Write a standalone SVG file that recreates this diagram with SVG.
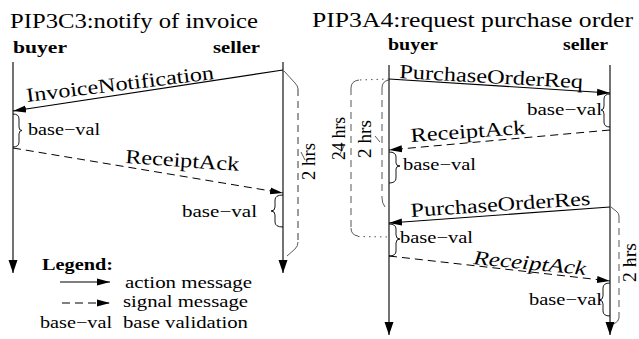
<svg xmlns="http://www.w3.org/2000/svg" width="639" height="339" viewBox="0 0 639 339">
<style>
text{font-family:"Liberation Serif","Times New Roman",serif;fill:#000;lengthAdjust:spacingAndGlyphs}
.t{font-size:20px}
.h{font-size:16px;font-weight:bold}
.b{font-size:17px}
.r{font-size:19px}
.ln{stroke:#000;stroke-width:1.1;fill:none}
.ds{stroke:#000;stroke-width:1;fill:none;stroke-dasharray:8 5}
.br{stroke:#000;stroke-width:0.9;fill:none}
.tm{stroke:#222;stroke-width:0.9;fill:none;stroke-dasharray:7 5}
.tg{stroke:#666;stroke-width:1.1;fill:none;stroke-dasharray:7 5}
.dt{stroke:#555;stroke-width:1;fill:none;stroke-dasharray:1.5 4}
.th{stroke:#333;stroke-width:0.8;fill:none}
</style>
<defs>
<marker id="ah" markerUnits="userSpaceOnUse" markerWidth="14" markerHeight="10" refX="13" refY="4" orient="auto"><path d="M0,0.5 L13,4 L0,7.5 Z" fill="#000"/></marker>
<marker id="lh" markerUnits="userSpaceOnUse" markerWidth="14" markerHeight="10" refX="13" refY="4.5" orient="auto"><path d="M0,0 L13,4.5 L0,9 Z" fill="#000"/></marker>
</defs>

<g id="titles">
<text class="t" x="10" y="28" textLength="248" lengthAdjust="spacingAndGlyphs">PIP3C3:notify of invoice</text>
<text class="t" x="312" y="27" textLength="321" lengthAdjust="spacingAndGlyphs">PIP3A4:request purchase order</text>
</g>

<g id="left-buyer">
<text class="h" x="13" y="53" textLength="54" lengthAdjust="spacingAndGlyphs">buyer</text>
</g>
<g id="left-seller">
<text class="h" x="213" y="53" textLength="47" lengthAdjust="spacingAndGlyphs">seller</text>
</g>
<g id="right-buyer">
<text class="h" x="388" y="50" textLength="50" lengthAdjust="spacingAndGlyphs">buyer</text>
</g>
<g id="right-seller">
<text class="h" x="563" y="50" textLength="45" lengthAdjust="spacingAndGlyphs">seller</text>
</g>

<g id="connectors">
<!-- lifelines -->
<line class="ln" x1="13" y1="62" x2="13" y2="273" marker-end="url(#lh)"/>
<line class="ln" x1="283" y1="62" x2="283" y2="273" marker-end="url(#lh)"/>
<line class="ln" x1="389" y1="65" x2="389" y2="335" marker-end="url(#lh)"/>
<line class="ln" x1="610" y1="65" x2="610" y2="335" marker-end="url(#lh)"/>
<!-- left messages -->
<line class="ln" x1="283" y1="70" x2="13" y2="111" marker-end="url(#ah)"/>
<line class="ds" x1="13" y1="148" x2="283" y2="193" marker-end="url(#ah)"/>
<!-- right messages -->
<line class="ln" x1="389" y1="79" x2="610" y2="93" marker-end="url(#ah)"/>
<line class="ds" x1="610" y1="130" x2="389" y2="150" marker-end="url(#ah)"/>
<line class="ln" x1="610" y1="207" x2="389" y2="223" marker-end="url(#ah)"/>
<line class="ds" x1="389" y1="256" x2="610" y2="281" marker-end="url(#ah)"/>
<!-- braces -->
<path class="br" d="M13,114 Q19,114 19,119 L19,127 Q19,130.5 22,130.5 Q19,130.5 19,134 L19,142 Q19,147 13,147"/>
<path class="br" d="M283,195 Q275,195 275,200 L275,207 Q275,211 271,211 Q275,211 275,215 L275,222 Q275,227 283,227"/>
<path class="br" d="M610,94 Q604,94 604,99 L604,106 Q604,110 601,110 Q604,110 604,114 L604,122 Q604,127 610,127"/>
<path class="br" d="M389,152 Q396,152 396,157 L396,163 Q396,166 400,166 Q396,166 396,169 L396,178 Q396,183 389,183"/>
<path class="br" d="M389,224 Q396,224 396,229 L396,235 Q396,239 400,239 Q396,239 396,243 L396,251 Q396,256 389,256"/>
<path class="br" d="M610,283 Q603,283 603,288 L603,296 Q603,300 599,300 Q603,300 603,304 L603,311 Q603,316 610,316"/>
<!-- timing brackets -->
<path class="th" d="M284,71 L295,83 Q298,86 298,89"/>
<line class="tm" x1="298" y1="89" x2="298" y2="242"/>
<path class="th" d="M298,242 Q298,246 295,249 L287,256"/>
<line class="th" x1="301" y1="152" x2="305" y2="160"/>

<path class="th" d="M611,207 L616,211 Q619,213 619,216"/>
<line class="tg" x1="619" y1="216" x2="619" y2="318"/>
<path class="th" d="M619,318 Q619,321 614,324"/>
<line class="th" x1="629" y1="259" x2="633" y2="266"/>

<path class="dt" d="M389,79 L359,80"/>
<path class="th" d="M359,80 Q351,81 351,88"/>
<line class="tg" x1="351" y1="88" x2="351" y2="228"/>
<path class="th" d="M351,228 Q351,235 358,236"/>
<path class="dt" d="M358,236.5 L389,237"/>
<path class="th" d="M389,80 Q382,81 382,88"/>
<line class="tg" x1="382" y1="88" x2="382" y2="198"/>
<path class="th" d="M382,198 Q382,203 385,207"/>
<line class="th" x1="339" y1="156" x2="344" y2="146"/>
<line class="th" x1="375" y1="136" x2="380" y2="142"/>
<!-- legend arrows -->
<line class="ln" x1="60" y1="282" x2="110" y2="282" marker-end="url(#ah)"/>
<line class="ds" x1="62" y1="303" x2="110" y2="303" stroke-dasharray="6 4" marker-end="url(#ah)"/>
</g>

<g id="labels">
<text class="t" transform="translate(27,102) rotate(-7)" textLength="189" lengthAdjust="spacingAndGlyphs">InvoiceNotification</text>
<text class="b" x="28" y="135" textLength="72" lengthAdjust="spacingAndGlyphs">base−val</text>
<text class="t" transform="translate(125,163) rotate(4)" textLength="114" lengthAdjust="spacingAndGlyphs">ReceiptAck</text>
<text class="b" x="182" y="217" textLength="75" lengthAdjust="spacingAndGlyphs">base−val</text>
<text class="r" transform="translate(315,180) rotate(-90)" textLength="37" lengthAdjust="spacingAndGlyphs">2 hrs</text>

<text class="t" transform="translate(399,78) rotate(3.2)" textLength="184" lengthAdjust="spacingAndGlyphs">PurchaseOrderReq</text>
<text class="b" x="527" y="115" textLength="75" lengthAdjust="spacingAndGlyphs">base−val</text>
<text class="t" transform="translate(411,142) rotate(-4)" textLength="115" lengthAdjust="spacingAndGlyphs">ReceiptAck</text>
<text class="b" x="403" y="170" textLength="73" lengthAdjust="spacingAndGlyphs">base−val</text>
<text class="t" transform="translate(411,217) rotate(-3.9)" textLength="180" lengthAdjust="spacingAndGlyphs">PurchaseOrderRes</text>
<text class="b" x="400" y="243" textLength="73" lengthAdjust="spacingAndGlyphs">base−val</text>
<text class="t" font-style="italic" transform="translate(473,264) rotate(5.6)" textLength="113" lengthAdjust="spacingAndGlyphs">ReceiptAck</text>
<text class="b" x="529" y="305" textLength="73" lengthAdjust="spacingAndGlyphs">base−val</text>
<text class="r" transform="translate(636,282) rotate(-90)" textLength="39" lengthAdjust="spacingAndGlyphs">2 hrs</text>
<text class="r" transform="translate(345,160) rotate(-90)" textLength="43" lengthAdjust="spacingAndGlyphs">24 hrs</text>
<text class="r" transform="translate(371,158) rotate(-90)" textLength="38" lengthAdjust="spacingAndGlyphs">2 hrs</text>
</g>

<g id="legend">
<text class="b" font-weight="bold" x="42" y="270" textLength="71" lengthAdjust="spacingAndGlyphs">Legend:</text>
<text class="b" x="125" y="288" textLength="127" lengthAdjust="spacingAndGlyphs">action message</text>
<text class="b" x="123" y="307" textLength="125" lengthAdjust="spacingAndGlyphs">signal message</text>
<text class="b" x="40" y="328" textLength="72" lengthAdjust="spacingAndGlyphs">base−val</text>
<text class="b" x="123" y="328" textLength="125" lengthAdjust="spacingAndGlyphs">base validation</text>
</g>
</svg>
